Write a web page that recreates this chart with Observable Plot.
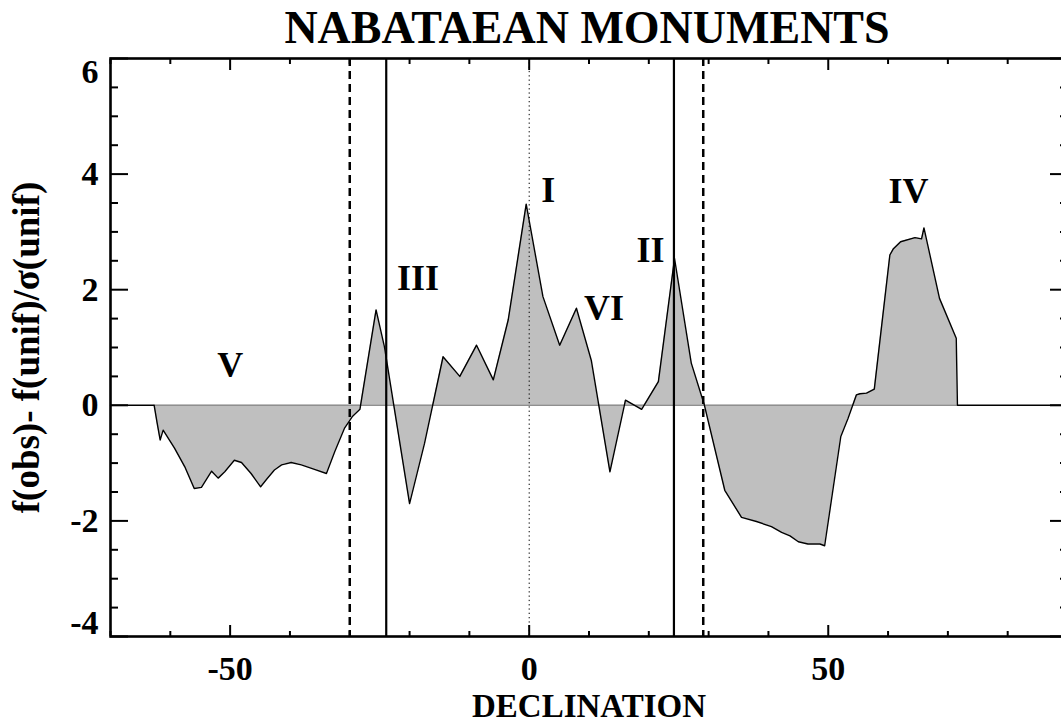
<!DOCTYPE html>
<html>
<head>
<meta charset="utf-8">
<script src="https://cdn.jsdelivr.net/npm/d3@7"></script>
<script src="https://cdn.jsdelivr.net/npm/@observablehq/plot@0.6"></script>
<style>
  html, body { margin: 0; padding: 0; overflow: hidden; background: white; }
  svg { max-width: none !important; }
</style>
</head>
<body>
<div id="chart"></div>
<script>
// ---- data ----
const decl = [-70, -62.7, -62.2, -61.7, -61.2, -59.3, -57.6, -56.0, -54.8, -53.1, -52.0, -50.9, -49.3, -48.1, -46.5, -44.9, -43.9, -42.6, -41.4, -39.8, -38.1, -35.9, -33.9, -32.5, -30.9, -29.6, -28.3, -25.6, -24.2, -20.0, -17.5, -14.4, -11.6, -8.8, -6.0, -3.5, -0.5, 2.3, 5.1, 7.9, 10.4, 13.5, 16.1, 18.8, 21.6, 24.3, 27.1, 29.3, 32.7, 35.5, 38.0, 40.5, 42.2, 43.6, 45.0, 46.6, 48.6, 49.4, 52.1, 53.3, 54.7, 55.3, 56.4, 57.7, 60.3, 60.9, 62.1, 64.5, 65.6, 66.0, 68.6, 71.4, 71.6, 90];
const value = [0, 0, -0.31, -0.60, -0.43, -0.74, -1.06, -1.44, -1.42, -1.14, -1.26, -1.15, -0.95, -0.99, -1.18, -1.41, -1.28, -1.12, -1.03, -0.99, -1.03, -1.11, -1.18, -0.80, -0.40, -0.20, -0.07, 1.65, 1.01, -1.70, -0.66, 0.84, 0.50, 1.04, 0.44, 1.48, 3.48, 1.88, 1.04, 1.68, 0.77, -1.15, 0.09, -0.07, 0.41, 2.54, 0.73, 0.0, -1.47, -1.94, -2.01, -2.10, -2.20, -2.26, -2.36, -2.40, -2.40, -2.43, -0.54, -0.23, 0.18, 0.20, 0.21, 0.28, 2.60, 2.71, 2.83, 2.90, 2.88, 3.07, 1.85, 1.16, 0, 0];

const dashedLines = [-30, 29.1];
const solidLines = [-23.9, 24.2];
const dottedLines = [0];
const shadeRange = [-62.7, 71.6];

const regionNames = ["V", "III", "I", "VI", "II", "IV"];
const regionX = [-50.0, -18.6, 3.2, 12.5, 20.3, 63.4];
const regionY = [0.49, 2.0, 3.51, 1.48, 2.48, 3.50];

const xMajor = [-50, 0, 50];
const xMinor = [-70, -60, -40, -30, -20, -10, 10, 20, 30, 40, 60, 70, 80, 90];
const yMajor = [-4, -2, 0, 2, 4, 6];
const yMinor = [-3.5, -3, -2.5, -1.5, -1, -0.5, 0.5, 1, 1.5, 2.5, 3, 3.5, 4.5, 5, 5.5];
const yLabelsMid = [-2, 0, 2, 4];

const title = "NABATAEAN MONUMENTS";
const xTitle = "DECLINATION";
const yTitle = "f(obs)- f(unif)/σ(unif)";

// ---- build ----
const data = decl.map((d, i) => ({x: d, y: value[i]}));
const regions = regionNames.map((n, i) => ({name: n, x: regionX[i], y: regionY[i]}));
const font = "Liberation Serif";
const blank = () => "";
const txt = {fontFamily: font, fontWeight: "bold", fill: "black"};

const chart = Plot.plot({
  width: 1075,
  height: 724,
  marginLeft: 110,
  marginRight: 8,
  marginTop: 58,
  marginBottom: 88,
  x: {domain: [-70, 90]},
  y: {domain: [-4, 6]},
  style: "max-width: none; background: white; overflow: visible; font-family: 'Liberation Serif';",
  marks: [
    Plot.areaY(data, {x: "x", y: "y", fill: "#bfbfbf"}),
    Plot.ruleY([0], {x1: shadeRange[0], x2: shadeRange[1], stroke: "#8f8f8f", strokeWidth: 1.5}),
    Plot.line(data, {x: "x", y: "y", stroke: "black", strokeWidth: 1.4}),
    Plot.ruleX(dashedLines, {stroke: "black", strokeWidth: 2.5, strokeDasharray: "8,5"}),
    Plot.ruleX(solidLines, {stroke: "black", strokeWidth: 2.2}),
    Plot.ruleX(dottedLines, {stroke: "black", strokeWidth: 1, strokeDasharray: "1.3,3"}),
    // frame
    Plot.frame({stroke: "black", strokeWidth: 2.6}),
    // ticks (inward)
    Plot.axisX({anchor: "bottom", ticks: xMajor, tickSize: -11, tickFormat: blank, label: null, strokeWidth: 2}),
    Plot.axisX({anchor: "bottom", ticks: xMinor, tickSize: -5, tickFormat: blank, label: null, strokeWidth: 2}),
    Plot.axisX({anchor: "top", ticks: xMajor, tickSize: -11, tickFormat: blank, label: null, strokeWidth: 2}),
    Plot.axisX({anchor: "top", ticks: xMinor, tickSize: -5, tickFormat: blank, label: null, strokeWidth: 2}),
    Plot.axisY({anchor: "left", ticks: yMajor, tickSize: -18, tickFormat: blank, label: null, strokeWidth: 2}),
    Plot.axisY({anchor: "left", ticks: yMinor, tickSize: -8, tickFormat: blank, label: null, strokeWidth: 2}),
    Plot.axisY({anchor: "right", ticks: yMajor, tickSize: -18, tickFormat: blank, label: null, strokeWidth: 2}),
    Plot.axisY({anchor: "right", ticks: yMinor, tickSize: -8, tickFormat: blank, label: null, strokeWidth: 2}),
    // tick labels
    Plot.text(xMajor, {x: d => d, frameAnchor: "bottom", dy: 43, textAnchor: "middle", lineAnchor: "bottom", text: d => String(d), fontSize: 34, ...txt}),
    Plot.text(yLabelsMid, {y: d => d, frameAnchor: "left", dx: -12, textAnchor: "end", lineAnchor: "middle", text: d => String(d), fontSize: 34, ...txt}),
    Plot.text([6], {y: d => d, frameAnchor: "left", dx: -12, textAnchor: "end", lineAnchor: "top", text: d => String(d), fontSize: 34, ...txt}),
    Plot.text([-4], {y: d => d, frameAnchor: "left", dx: -12, dy: -3, textAnchor: "end", lineAnchor: "bottom", text: d => String(d), fontSize: 34, ...txt}),
    // region labels
    Plot.text(regions, {x: "x", y: "y", text: "name", textAnchor: "middle", lineAnchor: "bottom", fontSize: 36, ...txt}),
    // titles
    Plot.text([title], {frameAnchor: "top", dy: -16, dx: -2, textAnchor: "middle", lineAnchor: "bottom", fontSize: 46, ...txt}),
    Plot.text([xTitle], {frameAnchor: "bottom", dy: 80, textAnchor: "middle", lineAnchor: "bottom", fontSize: 33, ...txt}),
    Plot.text([yTitle], {frameAnchor: "left", dx: -72, rotate: -90, textAnchor: "middle", lineAnchor: "bottom", fontSize: 37, ...txt})
  ]
});
document.getElementById("chart").appendChild(chart);
</script>
</body>
</html>
